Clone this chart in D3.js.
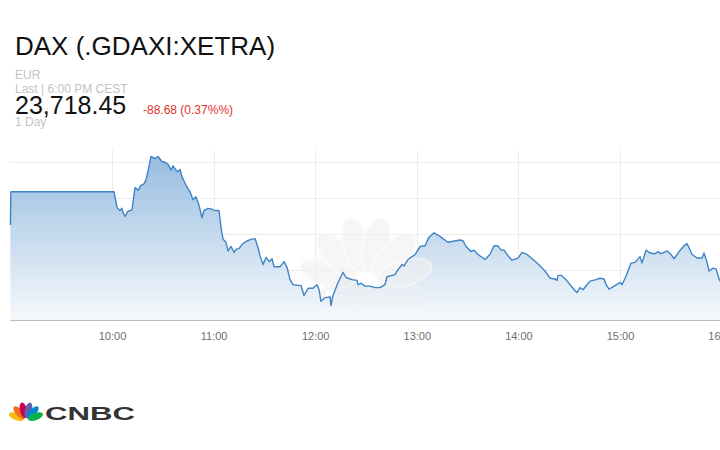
<!DOCTYPE html>
<html><head><meta charset="utf-8">
<script src="https://cdn.jsdelivr.net/npm/d3@7"></script>
<style>
html,body{margin:0;padding:0;background:#fff;overflow:hidden;}
svg{display:block;font-family:"Liberation Sans",Arial,sans-serif;}
</style></head>
<body>
<svg id="c" width="720" height="450"></svg>
<script>
// ---- data ----
const title = "DAX (.GDAXI:XETRA)";
const currency = "EUR";
const lastLabel = "Last | 6:00 PM CEST";
const lastPrice = "23,718.45";
const changeLabel = "-88.68 (0.37%%)";
const rangeLabel = "1 Day";
const tickLabels = ["10:00","11:00","12:00","13:00","14:00","15:00","16:00"];
const gridValues = [23700, 23750, 23800, 23850];
// minutes after 09:00
const minutes = [0,0.3,61.2,63.0,64.7,65.9,66.5,67.7,69.5,71.8,73.6,75.4,77.1,78.9,80.1,81.3,83.0,85.4,87.2,89.5,91.3,93.1,94.9,96.0,97.8,99.0,100.2,101.3,103.7,106.1,107.8,109.6,111.4,113.2,114.3,116.7,119.1,120.2,123.2,124.4,125.6,127.3,128.5,130.3,132.1,133.2,135.0,136.8,139.1,142.1,144.5,146.2,147.4,149.2,151.0,152.8,154.5,155.7,159.2,161.6,163.4,165.1,166.9,169.9,171.6,173.4,175.8,178.7,181.1,182.3,183.4,185.8,188.8,189.3,190.5,193.5,196.4,198.2,201.7,204.7,205.3,207.1,209.4,212.4,215.3,218.3,221.2,222.4,225.4,227.1,228.9,231.3,232.5,234.8,237.2,239.0,241.9,244.9,247.2,250.2,253.7,258.4,260.8,265.5,267.3,269.1,272.0,273.8,276.1,280.3,283.2,285.6,287.9,289.8,291.5,293.3,296.2,299.8,302.1,305.1,308.1,311.0,312.8,315.7,318.7,321.6,322.8,323.4,325.2,328.1,330.5,332.9,334.6,336.4,338.2,340.5,342.3,345.9,348.2,350.6,351.8,353.5,356.5,360.0,361.2,363.6,366.5,368.9,371.8,373.0,375.4,377.7,380.7,382.5,384.2,386.0,387.8,390.1,391.9,394.9,397.8,399.6,400.8,402.6,405.5,408.5,409.6,411.4,412.6,415.0,416.7,418.5,420.3];
const values = [23762,23808,23808,23786,23782,23785,23779,23774,23781,23783,23814,23810,23817,23819,23825,23837,23857,23854,23857,23850,23849,23846,23838,23844,23838,23836,23839,23829,23817,23808,23797,23801,23789,23772,23782,23785,23784,23782,23782,23758,23742,23738,23726,23732,23724,23728,23729,23735,23739,23742,23743,23731,23719,23707,23717,23711,23715,23704,23704,23711,23703,23686,23679,23678,23678,23664,23674,23674,23679,23672,23656,23661,23662,23650,23664,23682,23696,23689,23686,23685,23679,23681,23677,23677,23675,23675,23679,23690,23692,23693,23700,23707,23705,23714,23718,23721,23732,23733,23745,23751,23746,23738,23739,23741,23740,23732,23725,23727,23721,23714,23721,23733,23733,23727,23727,23721,23713,23716,23724,23721,23715,23709,23705,23698,23688,23687,23685,23692,23692,23686,23679,23672,23668,23675,23672,23679,23684,23686,23688,23687,23679,23673,23677,23682,23679,23691,23709,23710,23718,23709,23727,23723,23722,23725,23722,23724,23726,23721,23715,23725,23733,23736,23730,23721,23716,23716,23723,23710,23698,23702,23701,23687,23679];

// ---- chart ----
const svg = d3.select("#c");
const base = new Date(2025, 5, 2, 9, 0, 0);
const toDate = m => new Date(base.getTime() + m * 60000);
const data = minutes.map((m, i) => ({ t: toDate(m), v: values[i] }));

const x = d3.scaleTime().domain([toDate(0), toDate(420)]).range([10.4, 721.6]);
const y = d3.scaleLinear().domain([23630, 23866]).range([320, 150]);

// header
svg.append("text").attr("x", 15).attr("y", 55).attr("font-size", 26).attr("fill", "#111").text(title);
svg.append("text").attr("x", 15).attr("y", 79).attr("font-size", 12).attr("fill", "#c4c4c4").text(currency);
svg.append("text").attr("x", 15).attr("y", 92.5).attr("font-size", 12).attr("fill", "#c4c4c4").text(lastLabel);
svg.append("text").attr("x", 15).attr("y", 114).attr("font-size", 25).attr("fill", "#111").text(lastPrice);
svg.append("text").attr("x", 143).attr("y", 114).attr("font-size", 12).attr("fill", "#e2302c").text(changeLabel);
svg.append("text").attr("x", 15).attr("y", 126).attr("font-size", 12).attr("fill", "#c4c4c4").text(rangeLabel);

// gradient
const defs = svg.append("defs");
const grad = defs.append("linearGradient").attr("id", "g").attr("gradientUnits", "userSpaceOnUse")
  .attr("x1", 0).attr("x2", 0).attr("y1", 150).attr("y2", 320);
grad.append("stop").attr("offset", 0).attr("stop-color", "rgb(148,186,223)");
grad.append("stop").attr("offset", 1).attr("stop-color", "rgb(246,249,252)");

// grid
const ticks = tickLabels.map((_, i) => toDate(60 * (i + 1)));
svg.append("g").selectAll("line").data(ticks).join("line")
  .attr("x1", d => Math.round(x(d)) + 0.5).attr("x2", d => Math.round(x(d)) + 0.5)
  .attr("y1", 150).attr("y2", 320).attr("stroke", "#ececec");
svg.append("g").selectAll("line").data(gridValues).join("line")
  .attr("x1", 10).attr("x2", 720)
  .attr("y1", d => Math.round(y(d)) + 0.5).attr("y2", d => Math.round(y(d)) + 0.5)
  .attr("stroke", "#ececec");

// area
svg.append("path").datum(data)
  .attr("d", d3.area().x(d => x(d.t)).y0(320).y1(d => y(d.v)))
  .attr("fill", "url(#g)");

// watermark (faint peacock + wordmark)
const wm = svg.append("g").attr("opacity", 0.6);
const wx = 366, wy = 284;
[-74, -44, -14, 14, 44, 74].forEach(a => {
  const r = a * Math.PI / 180, L = 40;
  const cx = wx + Math.sin(r) * L, cy = wy - Math.cos(r) * L;
  wm.append("ellipse")
    .attr("cx", cx).attr("cy", cy).attr("rx", 13).attr("ry", 28)
    .attr("transform", `rotate(${a},${cx},${cy})`)
    .attr("fill", "#f1f1f1").attr("stroke", "#fafafa").attr("stroke-width", 2);
});
wm.append("text").attr("x", 372).attr("y", 306).attr("text-anchor", "middle")
  .attr("font-size", 30).attr("font-weight", "900").attr("fill", "#f1f1f1")
  .attr("textLength", 108).attr("lengthAdjust", "spacingAndGlyphs").text("CNBC");

// line
svg.append("path").datum(data)
  .attr("d", d3.line().x(d => x(d.t)).y(d => y(d.v)))
  .attr("fill", "none").attr("stroke", "#3f84c6").attr("stroke-width", 1.4)
  .attr("stroke-linejoin", "round");

// x axis
const ax = svg.append("g").attr("transform", "translate(0,320)");
const axis = d3.axisBottom(x).tickValues(ticks).tickSize(0).tickFormat((d, i) => tickLabels[i]);
ax.call(axis);
ax.select(".domain").remove();
ax.append("line").attr("x1", 10).attr("x2", 720).attr("y1", 0.5).attr("y2", 0.5).attr("stroke", "#bdbdbd");
ax.selectAll(".tick text").attr("y", 12).attr("font-size", 11).attr("fill", "#6e6e6e")
  .attr("font-family", "Liberation Sans, Arial, sans-serif");

// CNBC logo
const lg = svg.append("g");
const px = 26, py = 420;
const cols = ["#fcb711", "#f37021", "#cc004c", "#6460aa", "#0089d0", "#0db14b"];
[-70, -42, -14, 14, 42, 70].forEach((a, i) => {
  const r = a * Math.PI / 180, L = 10;
  const cx = px + Math.sin(r) * L, cy = py - Math.cos(r) * L;
  lg.append("ellipse").attr("cx", cx).attr("cy", cy).attr("rx", 3.6).attr("ry", 8)
    .attr("transform", `rotate(${a},${cx},${cy})`).attr("fill", cols[i]);
});
lg.append("text").attr("x", 45).attr("y", 419.5).attr("font-size", 19).attr("font-weight", "900")
  .attr("fill", "#333").attr("textLength", 90).attr("lengthAdjust", "spacingAndGlyphs").text("CNBC");
</script>
</body></html>
